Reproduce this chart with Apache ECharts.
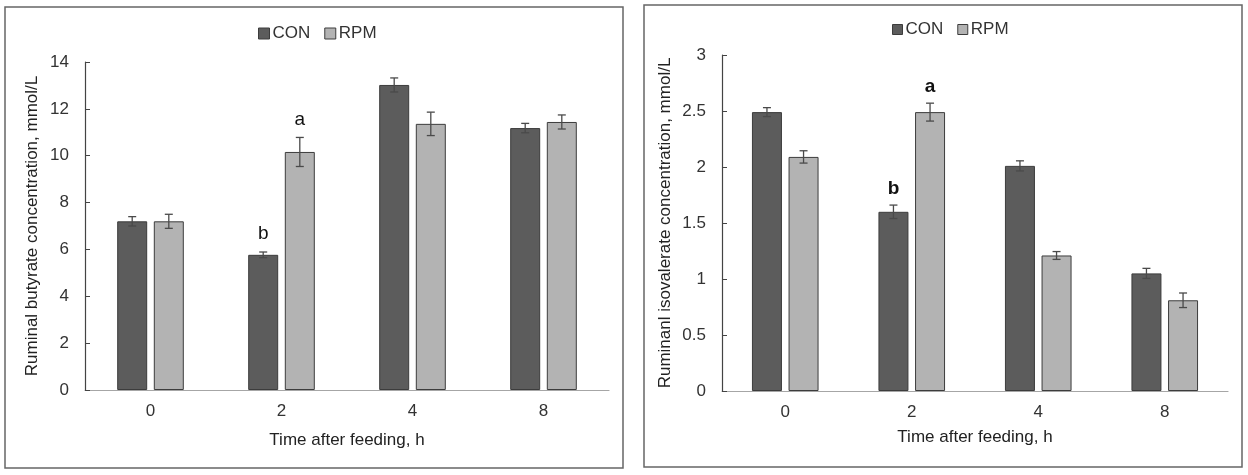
<!DOCTYPE html>
<html>
<head>
<meta charset="utf-8">
<script src="https://cdn.jsdelivr.net/npm/echarts@6/dist/echarts.min.js"></script>
<style>
  html, body { margin: 0; padding: 0; background: #fff; }
  #main { width: 1248px; height: 475px; }
</style>
</head>
<body>
<div id="main"></div>
<script>
// categories (time after feeding, h)
var hours = ['0', '2', '4', '8'];

// left panel: ruminal butyrate, mmol/L
var butCon = [7.2, 5.77, 13.02, 11.18];
var butConErr = [0.2, 0.12, 0.3, 0.2];
var butRpm = [7.2, 10.16, 11.36, 11.44];
var butRpmErr = [0.3, 0.62, 0.5, 0.3];
var butConSig = ['', 'b', '', ''];
var butRpmSig = ['', 'a', '', ''];

// right panel: ruminal isovalerate, mmol/L
var isoCon = [2.49, 1.6, 2.01, 1.05];
var isoConErr = [0.04, 0.06, 0.045, 0.045];
var isoRpm = [2.09, 2.49, 1.21, 0.81];
var isoRpmErr = [0.055, 0.08, 0.035, 0.065];
var isoConSig = ['', 'b', '', ''];
var isoRpmSig = ['', 'a', '', ''];

var FONT = 'Liberation Sans';
var BAR_W = 30;
var SHIFT = 18.3; // half of bar width + gap, bars sit either side of the category centre

function errData(vals, errs, sig, side) {
    var out = [];
    for (var i = 0; i < vals.length; i++) {
        out.push([i, vals[i], errs[i], sig[i], side]);
    }
    return out;
}

function makeErrRenderer(letterGap, letterWeight) {
    return function (params, api) {
        var idx = api.value(0), v = api.value(1), e = api.value(2);
        var side = api.value(4);
        var top = api.coord([idx, v + e]);
        var bot = api.coord([idx, v - e]);
        var x = top[0] + side * SHIFT;
        var cap = 4;
        var st = { stroke: '#4a4a4a', lineWidth: 1.3 };
        var kids = [
            { type: 'line', shape: { x1: x, y1: top[1], x2: x, y2: bot[1] }, style: st },
            { type: 'line', shape: { x1: x - cap, y1: top[1], x2: x + cap, y2: top[1] }, style: st },
            { type: 'line', shape: { x1: x - cap, y1: bot[1], x2: x + cap, y2: bot[1] }, style: st }
        ];
        var s = api.value(3);
        if (s) {
            kids.push({
                type: 'text',
                style: {
                    text: s, x: x, y: top[1] - letterGap, align: 'center', verticalAlign: 'middle',
                    fontFamily: FONT, fontSize: 19, fontWeight: letterWeight, fill: '#111'
                }
            });
        }
        return { type: 'group', children: kids };
    };
}

function barSeries(name, data, axis, fill) {
    return {
        name: name, type: 'bar', data: data,
        xAxisIndex: axis, yAxisIndex: axis,
        barWidth: BAR_W, barGap: '22%',
        itemStyle: { color: fill, borderColor: '#3c3c3c', borderWidth: 1 },
        silent: true
    };
}

function errSeries(data, axis) {
    return {
        type: 'custom', data: data,
        xAxisIndex: axis, yAxisIndex: axis,
        renderItem: axis ? makeErrRenderer(16, 'bold') : makeErrRenderer(18, 'normal'),
        silent: true, z: 5,
        encode: { x: 0, y: 1 }
    };
}

function xAx(grid) {
    return {
        type: 'category', data: hours, gridIndex: grid,
        name: 'Time after feeding, h', nameLocation: 'middle', nameGap: grid ? 38 : 42,
        nameTextStyle: { fontFamily: FONT, fontSize: 17, color: '#222' },
        axisLine: { lineStyle: { color: '#a6a6a6', width: 1.2 } },
        axisTick: { show: false },
        axisLabel: { fontFamily: FONT, fontSize: 17, color: '#333', margin: 13 }
    };
}

function yAx(grid, name, max, step, gap) {
    return {
        type: 'value', gridIndex: grid, min: 0, max: max, interval: step,
        name: name, nameLocation: 'middle', nameGap: gap,
        nameTextStyle: { fontFamily: FONT, fontSize: 17, color: '#222' },
        axisLine: { show: true, lineStyle: { color: '#444', width: 1.2 } },
        axisTick: { show: true, inside: true, length: 5, lineStyle: { color: '#444' } },
        axisLabel: { fontFamily: FONT, fontSize: 17, color: '#333', margin: 16 },
        splitLine: { show: false }
    };
}

function legendAt(left, top, box) {
    return {
        left: left, top: top,
        data: ['CON', 'RPM'], icon: 'rect', itemWidth: box, itemHeight: box, itemGap: 14,
        textStyle: { fontFamily: FONT, fontSize: 17, color: '#333', padding: [0, 0, 0, -2] },
        itemStyle: { borderColor: '#3c3c3c', borderWidth: 1 },
        selectedMode: false
    };
}

var option = {
    animation: false,
    backgroundColor: '#fff',
    graphic: [
        { type: 'rect', shape: { x: 5, y: 7, width: 618, height: 461 },
          style: { fill: 'none', stroke: '#666', lineWidth: 1.5 } },
        { type: 'rect', shape: { x: 644, y: 5, width: 598, height: 462 },
          style: { fill: 'none', stroke: '#666', lineWidth: 1.5 } }
    ],
    legend: [
        legendAt(253, 20, 11),
        legendAt(887, 16, 10)
    ],
    grid: [
        { left: 85, top: 62, width: 524, height: 328 },
        { left: 722, top: 55, width: 506, height: 336 }
    ],
    xAxis: [xAx(0), xAx(1)],
    yAxis: [
        yAx(0, 'Ruminal butyrate concentration, mmol/L', 14, 2, 44),
        yAx(1, 'Ruminanl isovalerate concentration, mmol/L', 3, 0.5, 48)
    ],
    series: [
        barSeries('CON', butCon, 0, '#5c5c5c'),
        barSeries('RPM', butRpm, 0, '#b3b3b3'),
        errSeries(errData(butCon, butConErr, butConSig, -1), 0),
        errSeries(errData(butRpm, butRpmErr, butRpmSig, 1), 0),
        barSeries('CON', isoCon, 1, '#5c5c5c'),
        barSeries('RPM', isoRpm, 1, '#b3b3b3'),
        errSeries(errData(isoCon, isoConErr, isoConSig, -1), 1),
        errSeries(errData(isoRpm, isoRpmErr, isoRpmSig, 1), 1)
    ]
};

var chart = echarts.init(document.getElementById('main'));
chart.setOption(option);
</script>
</body>
</html>
